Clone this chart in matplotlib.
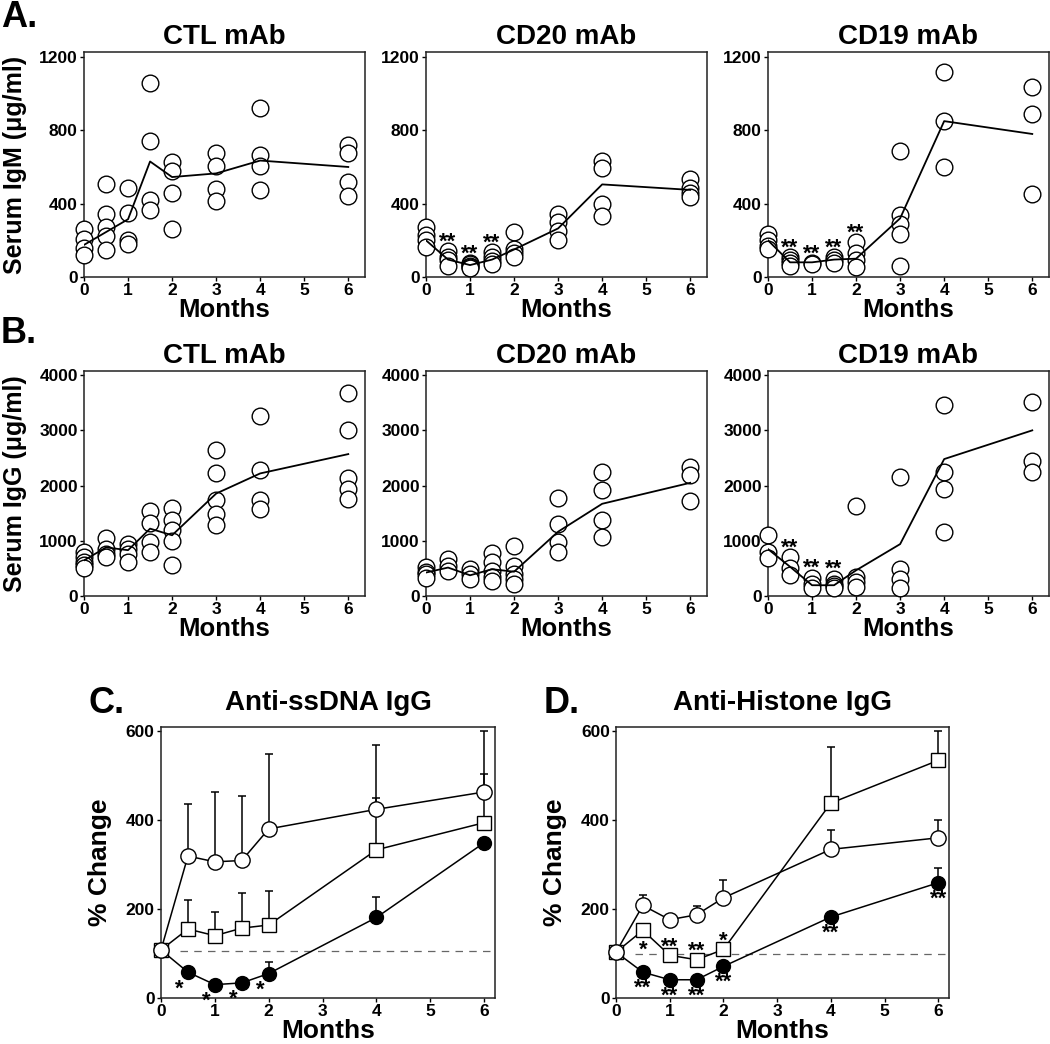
import matplotlib
matplotlib.use("Agg")
import matplotlib.pyplot as plt

plt.rcParams['font.family'] = ['Liberation Sans', 'DejaVu Sans']
plt.rcParams['font.weight'] = 'bold'
plt.rcParams['axes.titleweight'] = 'bold'
plt.rcParams['axes.labelweight'] = 'bold'

# time points for the serum Ig panels (A, B)
months = [0, 0.5, 1, 1.5, 2, 3, 4, 6]

# A. serum IgM (ug/ml), one list of mice per time point
igm_ctl = [[260, 205, 160, 120], [505, 345, 275, 225, 145], [485, 350, 200, 180],
           [1060, 740, 420, 365], [625, 580, 460, 260], [675, 605, 478, 413],
           [920, 665, 605, 475], [720, 675, 520, 440]]
igm_ctl_mean = [175, 245, 315, 630, 545, 565, 635, 600]
igm_ctl_sig = ['', '', '', '', '', '', '', '']

igm_cd20 = [[275, 230, 200, 165], [140, 110, 90, 60], [78, 70, 62, 55, 50],
            [135, 110, 85, 70], [245, 150, 130, 110], [345, 300, 250, 200],
            [635, 595, 400, 330], [535, 485, 460, 435]]
igm_cd20_mean = [200, 95, 65, 95, 150, 265, 505, 475]
igm_cd20_sig = ['', '**', '**', '**', '', '', '', '']

igm_cd19 = [[235, 200, 170, 155], [110, 90, 75, 60], [75, 70], [110, 90, 75],
            [190, 130, 90, 55], [685, 340, 290, 235, 60], [1120, 850, 600],
            [1035, 890, 450]]
igm_cd19_mean = [200, 80, 80, 95, 100, 320, 850, 780]
igm_cd19_sig = ['', '**', '**', '**', '**', '', '', '']

# B. serum IgG (ug/ml)
igg_ctl = [[800, 700, 620, 560, 500], [1050, 860, 760, 710], [940, 860, 760, 620],
           [1540, 1320, 970, 790], [1600, 1370, 1200, 1000, 555],
           [2640, 2220, 1735, 1490, 1280], [3260, 2290, 1735, 1580],
           [3680, 3000, 2130, 1945, 1765]]
igg_ctl_mean = [645, 880, 830, 1220, 1100, 1855, 2220, 2570]
igg_ctl_sig = ['', '', '', '', '', '', '', '']

igg_cd20 = [[520, 440, 395, 320], [670, 550, 455], [490, 395, 305],
            [780, 610, 455, 350, 275], [910, 550, 395, 305, 225],
            [1780, 1295, 985, 800], [2240, 1915, 1385, 1075], [2340, 2200, 1720]]
igg_cd20_mean = [425, 515, 375, 485, 440, 1165, 1670, 2050]
igg_cd20_sig = ['', '', '', '', '', '', '', '']

igg_cd19 = [[1105, 800, 680], [700, 500, 375], [335, 225, 150], [315, 225, 180, 150],
            [1635, 345, 255, 165], [2155, 485, 315, 150], [3460, 2240, 1940, 1165],
            [3515, 2440, 2240]]
igg_cd19_mean = [850, 530, 195, 195, 465, 940, 2480, 3000]
igg_cd19_sig = ['', '**', '**', '**', '', '', '', '']

# C, D. autoantibody % change, mean and upper error
ab_months = [0, 0.5, 1, 1.5, 2, 4, 6]

ssdna_ctl = [108, 319, 306, 309, 380, 424, 463]
ssdna_ctl_err = [0, 117, 157, 145, 168, 145, 137]
ssdna_cd20 = [108, 155, 140, 157, 164, 333, 394]
ssdna_cd20_err = [0, 65, 53, 78, 77, 117, 110]
ssdna_cd19 = [108, 58, 30, 34, 55, 181, 349]
ssdna_cd19_err = [0, 0, 0, 0, 26, 47, 0]
ssdna_cd19_sig = ['', '*', '*', '*', '*', '', '']

histone_ctl = [103, 208, 176, 187, 225, 334, 360]
histone_ctl_err = [0, 23, 0, 20, 41, 44, 41]
histone_cd20 = [103, 152, 96, 86, 109, 438, 534]
histone_cd20_err = [0, 0, 0, 0, 0, 126, 66]
histone_cd20_sig = ['', '*', '**', '**', '*', '', '']
histone_cd20_side = [0, -1, 1, 1, 1, 0, 0]   # 1 = star above the point, -1 = below
histone_cd19 = [103, 58, 41, 41, 71, 182, 259]
histone_cd19_err = [0, 0, 0, 0, 0, 0, 34]
histone_cd19_sig = ['', '**', '**', '**', '**', '**', '**']

W, H = 1050, 1044
STAR_FS = 16


def star(ax, x, y, s, dx_pt, dy_pt):
    # asterisks sit high in the line, shift so the glyph centre lands on the offset
    ax.annotate(s, (x, y), xytext=(dx_pt, dy_pt - 0.5 * STAR_FS), textcoords='offset points',
                ha='center', va='baseline', fontsize=STAR_FS, annotation_clip=False, zorder=10)


def style_axes(ax, ylim, yticks, xlim):
    ax.set_xlim(0, xlim)
    ax.set_ylim(0, ylim)
    ax.set_yticks(yticks)
    ax.set_xticks(range(0, 7))
    ax.tick_params(direction='out', length=3, width=1, labelsize=12.5, pad=1.5)
    for sp in ax.spines.values():
        sp.set_linewidth(1.1)
        sp.set_color('#222222')
    for lab in ax.get_xticklabels() + ax.get_yticklabels():
        lab.set_fontweight('bold')


def scatter_panel(ax, points, means, sig, title, ylim, yticks, ylabel=None):
    for m, vals in zip(months, points):
        ax.plot([m] * len(vals), vals, 'o', ms=12, mfc='white', mec='black', mew=1.0,
                clip_on=False, zorder=3)
    ax.plot(months, means, color='black', lw=1.3, zorder=4)
    for m, vals, s in zip(months, points, sig):
        if s:
            star(ax, m, max(vals), s, 0, 10.5)
    style_axes(ax, ylim, yticks, 6.38)
    ax.set_title(title, fontsize=20, pad=5.5)
    ax.set_xlabel('Months', fontsize=18.5, labelpad=0)
    if ylabel:
        ax.set_ylabel(ylabel, fontsize=18, va='center')
        ax.yaxis.set_label_coords(-0.244, 0.5)


def change_panel(ax, title, ctl, ctl_err, cd20, cd20_err, cd19, cd19_err, base):
    zero = [0] * len(ab_months)
    for vals, err in [(ctl, ctl_err), (cd20, cd20_err), (cd19, cd19_err)]:
        ax.errorbar(ab_months, vals, yerr=[zero, err], fmt='none', ecolor='black',
                    elinewidth=1.1, capsize=3, capthick=1.1, zorder=1)
    ax.plot(ab_months, cd19, '-o', color='black', lw=1.1, ms=10, mfc='black', mec='black',
            clip_on=False, zorder=3)
    ax.plot(ab_months, cd20, '-s', color='black', lw=1.1, ms=10.5, mfc='white', mec='black',
            mew=1.0, clip_on=False, zorder=4)
    ax.plot(ab_months, ctl, '-o', color='black', lw=1.1, ms=11, mfc='white', mec='black',
            mew=1.0, clip_on=False, zorder=5)
    ax.hlines(base, 0.35, 6.2, colors='#666666', lw=0.9, linestyles=(0, (6, 5)), zorder=0.5)
    style_axes(ax, 609, [0, 200, 400, 600], 6.2)
    ax.set_title(title, fontsize=20, pad=12)
    ax.set_xlabel('Months', fontsize=19, labelpad=0)
    ax.set_ylabel('% Change', fontsize=19, va='center')
    ax.yaxis.set_label_coords(-0.184, 0.5)


fig = plt.figure(figsize=(W / 100, H / 100), dpi=100)

row_a = 1 - 277 / H
row_b = 1 - 596 / H
pw, ph = 281 / W, 225 / H
lefts = [84 / W, 426 / W, 768 / W]

ax = fig.add_axes([lefts[0], row_a, pw, ph])
scatter_panel(ax, igm_ctl, igm_ctl_mean, igm_ctl_sig, 'CTL mAb', 1227, [0, 400, 800, 1200],
              'Serum IgM (\u03bcg/ml)')
ax = fig.add_axes([lefts[1], row_a, pw, ph])
scatter_panel(ax, igm_cd20, igm_cd20_mean, igm_cd20_sig, 'CD20 mAb', 1227, [0, 400, 800, 1200])
ax = fig.add_axes([lefts[2], row_a, pw, ph])
scatter_panel(ax, igm_cd19, igm_cd19_mean, igm_cd19_sig, 'CD19 mAb', 1227, [0, 400, 800, 1200])

yt = [0, 1000, 2000, 3000, 4000]
ax = fig.add_axes([lefts[0], row_b, pw, ph])
scatter_panel(ax, igg_ctl, igg_ctl_mean, igg_ctl_sig, 'CTL mAb', 4075, yt, 'Serum IgG (\u03bcg/ml)')
ax = fig.add_axes([lefts[1], row_b, pw, ph])
scatter_panel(ax, igg_cd20, igg_cd20_mean, igg_cd20_sig, 'CD20 mAb', 4075, yt)
ax = fig.add_axes([lefts[2], row_b, pw, ph])
scatter_panel(ax, igg_cd19, igg_cd19_mean, igg_cd19_sig, 'CD19 mAb', 4075, yt)

# C. anti-ssDNA
axc = fig.add_axes([161 / W, 1 - 998 / H, 334 / W, 271 / H])
change_panel(axc, 'Anti-ssDNA IgG', ssdna_ctl, ssdna_ctl_err, ssdna_cd20, ssdna_cd20_err,
             ssdna_cd19, ssdna_cd19_err, 105)
for m, v, s in zip(ab_months, ssdna_cd19, ssdna_cd19_sig):
    if s:
        star(axc, m, v, s, -6, -8)

# D. anti-histone
axd = fig.add_axes([616 / W, 1 - 998 / H, 333 / W, 271 / H])
change_panel(axd, 'Anti-Histone IgG', histone_ctl, histone_ctl_err, histone_cd20, histone_cd20_err,
             histone_cd19, histone_cd19_err, 100)
for m, v, s, side in zip(ab_months, histone_cd20, histone_cd20_sig, histone_cd20_side):
    if s:
        star(axd, m, v, s, 0, 10 * side)
for m, v, s in zip(ab_months, histone_cd19, histone_cd19_sig):
    if s:
        star(axd, m, v, s, 0, -7.5)

# panel letters
fig.text(1 / W, 1 - 27 / H, 'A.', fontsize=26, va='baseline')
fig.text(1 / W, 1 - 343 / H, 'B.', fontsize=26, va='baseline')
fig.text(89 / W, 1 - 713 / H, 'C.', fontsize=26, va='baseline')
fig.text(544 / W, 1 - 713 / H, 'D.', fontsize=26, va='baseline')

fig.savefig('out.png', dpi=100)
